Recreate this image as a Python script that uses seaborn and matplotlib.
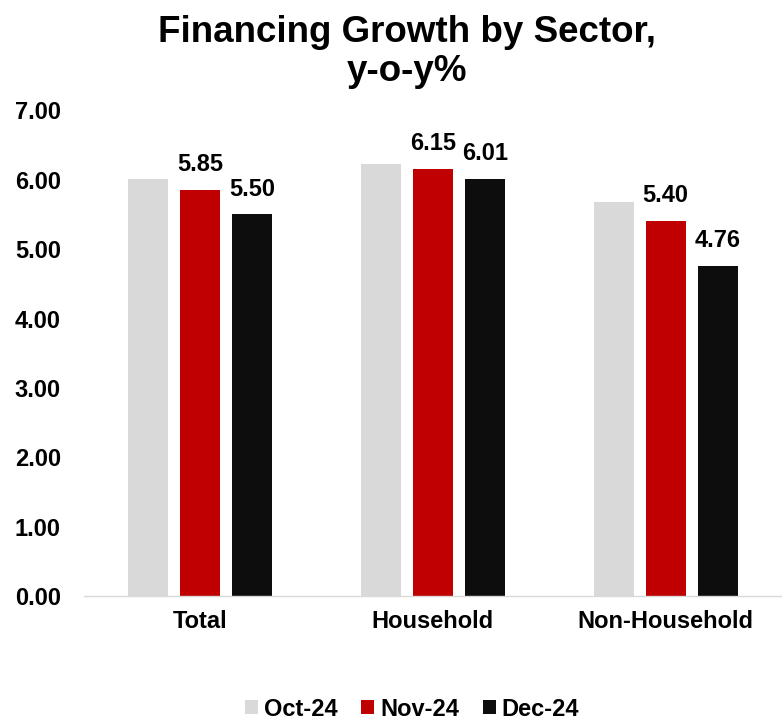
import matplotlib
matplotlib.use("Agg")
import matplotlib.pyplot as plt
import seaborn as sns
import pandas as pd
from matplotlib.patches import Patch

sectors = ["Total", "Household", "Non-Household"]
months = ["Oct-24", "Nov-24", "Dec-24"]
oct_vals = [6.01, 6.23, 5.68]
nov_vals = [5.85, 6.15, 5.40]
dec_vals = [5.50, 6.01, 4.76]
colors = ["#D9D9D9", "#C00000", "#0D0D0D"]
yticks = [0, 1, 2, 3, 4, 5, 6, 7]

df = pd.DataFrame({
    "Sector": sectors * 3,
    "Month": [m for m in months for _ in sectors],
    "Value": oct_vals + nov_vals + dec_vals,
})

sns.set_style("white")
plt.rcParams["font.family"] = ["Liberation Sans", "DejaVu Sans"]
plt.rcParams["font.weight"] = "bold"
plt.rcParams["text.color"] = "black"
plt.rcParams["xtick.color"] = "black"
plt.rcParams["ytick.color"] = "black"

fig = plt.figure(figsize=(7.82, 7.26), dpi=100)
ax = fig.add_axes([0.107, 0.179, 0.893, 0.669])

sns.barplot(data=df, x="Sector", y="Value", hue="Month", order=sectors,
            hue_order=months, palette=colors, width=0.67, gap=0.23,
            ax=ax, legend=False, saturation=1, linewidth=0)

# value labels for Nov and Dec series
for cont, month in zip(ax.containers, months):
    if month == "Oct-24":
        continue
    ax.bar_label(cont, fmt="%.2f", padding=10, fontsize=17, fontweight="bold",
                 color="black")

ax.set_ylim(0, 7)
ax.set_xlim(-0.5, 2.5)
ax.set_yticks(yticks)
ax.set_yticklabels([f"{t:.2f}" for t in yticks], fontsize=17, fontweight="bold")
ax.tick_params(axis="y", length=0, pad=16.5)
ax.tick_params(axis="x", length=0, pad=10, labelsize=17)
for lab in ax.get_xticklabels():
    lab.set_fontweight("bold")
ax.set_xlabel("")
ax.set_ylabel("")
for side in ["top", "right", "left"]:
    ax.spines[side].set_visible(False)
ax.spines["bottom"].set_color("#D9D9D9")
ax.spines["bottom"].set_linewidth(1)

fig.text(0.52, 0.979, "Financing Growth by Sector,\ny-o-y%", ha="center", va="top",
         fontsize=26.5, fontweight="bold", linespacing=1.15)

handles = [Patch(facecolor=c, edgecolor="none") for c in colors]
fig.legend(handles, months, loc="lower center", bbox_to_anchor=(0.527, -0.022),
           ncol=3, frameon=False, handlelength=0.55, handleheight=0.55,
           handletextpad=0.25, columnspacing=1.0, prop={"weight": "bold", "size": 17})

fig.savefig("out.png", dpi=100)
